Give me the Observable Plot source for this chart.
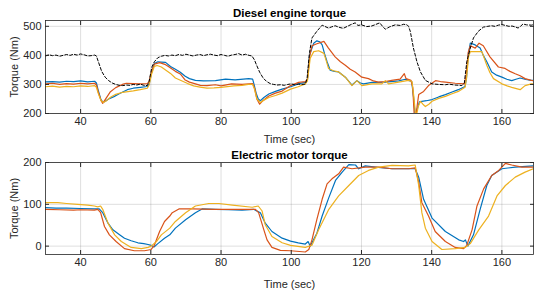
<!DOCTYPE html>
<html><head><meta charset="utf-8">
<script src="https://cdn.jsdelivr.net/npm/d3@7"></script>
<script src="https://cdn.jsdelivr.net/npm/@observablehq/plot@0.6"></script>
<style>body{margin:0;background:#fff} #chart svg{display:block}</style>
</head><body><div id="chart"></div>
<script>
// ---- data (time in sec, torque in Nm) ----
const xTicks = [40, 60, 80, 100, 120, 140, 160];
const dieselTicks = [200, 300, 400, 500];
const motorTicks = [0, 100, 200];
const titles = ["Diesel engine torque", "Electric motor torque"];
const xLabel = "Time (sec)";
const yLabel = "Torque (Nm)";

const dieselRef = [[30,398],[31,402],[32,399],[33,401],[34,397],[35,400],[36,403],[37,400],[38,404],[39,401],[40,405],[41,402],[42,398],[43,399],[44,401],[44.5,398],[45,380],[46,345],[47,325],[48,313],[49,305],[50,300],[51,297],[52,296],[53,298],[54,297],[55,300],[56,298],[57,301],[58,297],[59,296],[59.5,310],[60.3,360],[61,378],[62,392],[63,397],[64,400],[65,398],[66,401],[67,399],[68,403],[69,400],[70,404],[71,401],[72,398],[73,401],[74,403],[75,399],[76,402],[77,404],[78,401],[79,399],[80,403],[81,400],[82,397],[83,401],[84,403],[85,406],[86,401],[87,404],[88,400],[88.8,398],[89.5,385],[90,370],[91,342],[92,322],[93,310],[94,303],[95,300],[96,298],[97,299],[98,297],[99,300],[100,302],[101,299],[102,301],[103,300],[104,301],[104.5,320],[105.2,410],[105.9,460],[107.3,483],[108.8,504],[109.5,500],[110.6,494],[111.5,498],[112.5,502],[113.5,497],[114.8,493],[116,500],[117,506],[118.2,512],[119,503],[120,505],[121.5,499],[122.9,501],[124,506],[125.2,512],[126,500],[126.8,490],[128,498],[129.6,505],[131,503],[132,507],[133,505],[133.4,500],[133.9,483],[134.8,425],[135.8,378],[136.8,343],[138.2,314],[140.1,302],[142,300],[143.9,299],[145,301],[146.5,298],[148,297],[148.6,296],[149.3,305],[150,378],[151,425],[151.9,460],[153.3,483],[154.7,497],[156,500],[157,502],[158,500],[159,504],[160,506],[161,503],[162,500],[162.9,501],[164,497],[164.6,494],[165.3,500],[166,508],[167,505],[168.4,504],[169,506]];

const dieselBlue = [[30,309],[32,310],[34,308],[36,311],[38,310],[40,312],[42,309],[44,311],[44.5,305],[45,280],[45.8,248],[46.4,238],[47,242],[48,250],[49.5,258],[51,268],[53.3,282],[55,287],[57,290],[59,293],[59.5,300],[60.2,340],[61,372],[62,378],[63,377],[64.2,376],[65.6,362],[67,352],[68.4,342],[69.8,328],[71,320],[72.7,314],[75,312],[78.4,313],[81.3,318],[84,316],[87.9,320],[89,318],[89.4,300],[90,270],[90.6,250],[91.2,244],[92.2,255],[93.6,267],[95.5,276],[97.4,284],[99.8,292],[102,302],[104,307],[104.6,315],[105.2,400],[106.4,442],[107.3,450],[108.1,447],[108.8,436],[109.5,405],[110.2,378],[111.1,349],[112.3,345],[113.5,343],[115.4,325],[117.3,298],[118.7,313],[119.7,305],[120.6,302],[123,307],[126.8,308],[130.6,312],[132.5,318],[133.4,314],[134.3,310],[134.8,260],[135.3,195],[136,220],[136.5,240],[137.2,242],[138.5,244],[140.1,248],[142,257],[143.9,265],[145.8,274],[147.6,282],[149.5,293],[149.9,320],[150.4,400],[151,442],[152.4,436],[153.8,425],[154.7,400],[155.7,378],[157.1,343],[158.5,332],[160,325],[161.4,318],[162.8,313],[164,318],[165.2,322],[166.8,317],[168.4,314],[169,314]];

const dieselOrange = [[30,302],[32,304],[34,300],[36,303],[38,301],[40,304],[42,302],[44,304],[44.5,298],[45,275],[45.8,245],[46.3,235],[47,248],[48.5,275],[50,289],[51.9,300],[53,304],[55,303],[57,302],[59,303],[59.5,310],[60.2,345],[61,370],[62.5,375],[64.2,368],[65,362],[67,345],[68.4,336],[69.8,315],[71,308],[72.7,302],[74.1,297],[76,296],[78.4,299],[80,295],[83,302],[86,300],[89,303],[89.6,285],[90.2,250],[91,232],[92,245],[93.6,260],[95.5,270],[97.4,277],[99.8,296],[102.1,307],[104,310],[104.6,318],[105.3,400],[105.9,433],[107.3,440],[109.3,448],[110.6,425],[112.5,395],[114,378],[115.4,366],[116.8,352],[118.2,343],[120.1,325],[122,320],[123.4,312],[124.8,308],[126.8,310],[128.6,314],[131,318],[132.2,337],[132.7,320],[134.1,314],[134.6,290],[135,200],[135.4,180],[135.9,230],[136.3,265],[137.7,276],[139.1,296],[141.1,313],[142.5,310],[143.9,308],[146.7,304],[149.3,302],[149.8,330],[150.4,410],[151,433],[152.4,425],[153.5,442],[154.7,433],[156.6,395],[159,360],[160.9,355],[162.3,345],[163.8,337],[165.2,330],[166.6,320],[168.4,314],[169,313]];

const dieselYellow = [[30,292],[32,294],[34,291],[36,293],[38,292],[40,295],[42,293],[44,296],[44.5,290],[45,270],[45.8,245],[46.5,238],[47.5,245],[48.5,256],[50,266],[52,273],[55,278],[57,282],[59,287],[59.5,298],[60.2,335],[61,362],[61.8,365],[63,360],[64.2,350],[65.6,338],[67,322],[68.9,312],[70.5,303],[72.2,295],[74,291],[76,287],[78,288],[80,290],[83.6,295],[86,297],[87.8,300],[89,300],[89.5,285],[90.2,250],[91.2,238],[92.2,246],[93.6,255],[95.5,262],[97.4,270],[99.8,284],[102,292],[104,302],[104.6,312],[105.4,390],[106.4,413],[107.8,416],[109.3,407],[110,380],[110.6,355],[112,347],[113.5,343],[115.4,325],[117.3,296],[118.7,313],[120.1,296],[123,302],[125.8,302],[126.8,313],[127.7,302],[130.6,308],[133.4,314],[134.4,310],[134.9,260],[135.3,210],[135.6,190],[136.2,225],[136.8,242],[137.5,232],[138.2,224],[139.2,232],[140.1,242],[142,252],[143.9,259],[145.8,268],[147.6,276],[149.5,290],[149.9,320],[150.5,395],[151,413],[152.9,413],[154.3,413],[155.7,366],[156.6,340],[157.6,320],[160,302],[161.5,295],[162.8,290],[165.2,282],[166.6,296],[168.4,302],[169,302]];

const motorBlue = [[30,92],[33,91],[36,91],[40,90],[43.9,89],[45.3,89],[46.3,80],[47.8,55],[49.2,39],[51,28],[52.5,19],[54.4,13],[56.3,8],[58,6],[59.2,4],[60.1,2],[60.9,-2],[62,6],[63.9,19],[65.4,27],[67,43],[69.9,63],[72.7,80],[74.6,89],[78.4,88],[82,87],[86,86],[89.3,88],[91.2,80],[92.6,55],[94.5,35],[97.4,19],[99.8,12],[102,8],[104,5],[104.8,11],[105.4,0],[107.3,31],[108.8,72],[110.7,116],[112.6,157],[114.5,177],[116.4,195],[118.3,194],[119.2,185],[121.1,192],[124,189],[128.7,185],[133.4,185],[135.3,185],[136.3,165],[137.7,112],[140.1,67],[143.9,35],[147.7,15],[149.1,11],[149.6,15],[150.3,0],[151.9,27],[153.8,88],[155.7,145],[157.1,169],[160,185],[163.8,189],[169,192]];

const motorOrange = [[30,88],[34,87],[38,86],[40,87],[43.9,86],[44.9,88],[45.7,80],[46.8,47],[48.2,27],[50.1,11],[52.5,-6],[55.3,-11],[58.2,-11],[60.1,-8],[61,2],[62.5,35],[63.9,59],[65.4,72],[66.1,80],[68,89],[71.8,89],[78.4,88],[83.2,88],[89.8,88],[90.7,80],[92.2,39],[93.1,15],[94.5,-3],[96.9,-10],[99.8,-11],[104,-14],[105,-8],[105.9,15],[107.3,64],[108.8,112],[110.2,149],[111.6,161],[113.5,173],[114.9,189],[117.3,185],[121.1,189],[124.9,189],[128.7,185],[133.4,185],[135.3,187],[136.3,153],[137.2,104],[139.1,72],[141,35],[143.9,11],[146.7,-3],[149.1,-6],[150,2],[151.5,39],[152.9,96],[154.8,137],[157.1,169],[159.1,181],[161,198],[162.8,194],[165.7,189],[169,189]];

const motorYellow = [[30,104],[33.5,104],[36,102],[39.2,100],[42,98],[43.9,96],[44.9,94],[45.7,96],[46.3,88],[47.8,55],[49.7,27],[51.6,11],[54.4,-3],[57.3,-6],[59.2,-3],[60.1,0],[61.6,11],[63,27],[65.4,43],[67,59],[69.9,80],[72.7,96],[76.5,102],[79.4,102],[83.2,98],[88.9,93],[90.6,96],[91.7,84],[92.6,51],[94.5,23],[97.4,8],[99.8,2],[104,-3],[105.9,2],[107.8,39],[110.7,88],[113.5,120],[116.4,145],[119.2,169],[122,181],[124.9,189],[128.7,193],[133.4,192],[135.3,194],[136.3,145],[137.2,80],[138.2,43],[140.1,11],[142.9,-8],[146.7,-6],[149.6,-3],[151,6],[153.4,39],[156.2,72],[158.6,120],[161,145],[163.8,165],[166.6,177],[169,185]];

// ---- styling ----
const BLUE = "#0072BD", ORANGE = "#D95319", YELLOW = "#EDB120", INK = "#262626";

function panel({title, yDomain, yTicks, lines, marginTop, marginBottom}) {
  const X = d => d[0], Y = d => d[1];
  return Plot.plot({
    width: 534, height: 145,
    marginLeft: 45, marginRight: 1, marginTop, marginBottom,
    x: {domain: [30, 169]},
    y: {domain: yDomain},
    style: {fontFamily: "'Liberation Sans', Arial, sans-serif", fontSize: "11px", color: INK, background: "#fff"},
    marks: [
      Plot.gridX(xTicks, {stroke: INK, strokeOpacity: 0.15}),
      Plot.gridY(yTicks, {stroke: INK, strokeOpacity: 0.15}),
      ...lines.map(l => Plot.line(l.data, {x: X, y: Y, stroke: l.color, strokeWidth: l.width ?? 1.2, strokeDasharray: l.dash, clip: true})),
      Plot.frame({stroke: INK, strokeWidth: 0.8}),
      Plot.axisX(xTicks, {anchor: "bottom", tickSize: -4, tickPadding: 8, label: xLabel, labelAnchor: "center", labelArrow: "none", labelOffset: marginBottom - 3, fill: INK}),
      Plot.axisX(xTicks, {anchor: "top", tickSize: -4, label: null, fill: "none"}),
      Plot.axisY(yTicks, {anchor: "left", tickSize: -4, tickPadding: 8, label: yLabel, labelAnchor: "center", labelArrow: "none", labelOffset: 35, fill: INK}),
      Plot.axisY(yTicks, {anchor: "right", tickSize: -4, label: null, fill: "none"}),
      Plot.text([title], {frameAnchor: "top", dy: -4, lineAnchor: "bottom", fontWeight: "bold", fontSize: 11.5, fill: "#000"})
    ]
  });
}

const chart = document.getElementById("chart");
chart.append(panel({
  title: titles[0], yDomain: [200, 520], yTicks: dieselTicks, marginTop: 20, marginBottom: 32,
  lines: [
    {data: dieselBlue, color: BLUE},
    {data: dieselOrange, color: ORANGE},
    {data: dieselYellow, color: YELLOW},
    {data: dieselRef, color: "#000", width: 1, dash: "3,2"}
  ]
}));
chart.append(panel({
  title: titles[1], yDomain: [-20, 200], yTicks: motorTicks, marginTop: 17, marginBottom: 36,
  lines: [
    {data: motorBlue, color: BLUE},
    {data: motorOrange, color: ORANGE},
    {data: motorYellow, color: YELLOW}
  ]
}));
</script>
</body></html>
